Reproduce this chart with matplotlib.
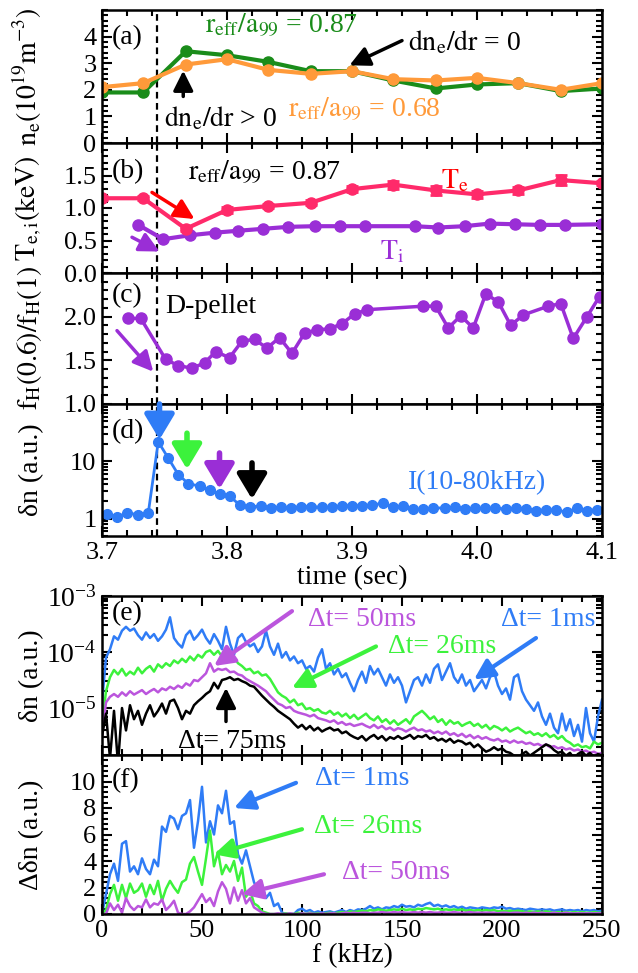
import numpy as np
import matplotlib
matplotlib.use('Agg')
import matplotlib.pyplot as plt
from matplotlib.ticker import MultipleLocator, LogLocator, NullFormatter

plt.rcParams['font.family'] = ['Liberation Serif', 'DejaVu Serif']
plt.rcParams['mathtext.fontset'] = 'stix'
plt.rcParams['font.size'] = 19

# ---------------- data ----------------
t_prof = [3.700, 3.733, 3.767, 3.800, 3.833, 3.867, 3.900, 3.933, 3.967, 4.000, 4.033, 4.067, 4.100]
ne_087 = [1.9, 1.9, 3.45, 3.3, 3.05, 2.7, 2.7, 2.35, 2.05, 2.2, 2.25, 1.95, 2.05]
ne_068 = [2.1, 2.25, 2.95, 3.15, 2.75, 2.6, 2.7, 2.4, 2.35, 2.45, 2.25, 2.0, 2.25]

Te = [1.15, 1.15, 0.68, 0.97, 1.03, 1.08, 1.29, 1.36, 1.27, 1.21, 1.27, 1.43, 1.38]
Te_err = [0.03, 0.03, 0.03, 0.04, 0.03, 0.04, 0.05, 0.06, 0.07, 0.05, 0.06, 0.08, 0.03]

t_Ti = [3.729, 3.749, 3.770, 3.790, 3.809, 3.829, 3.849, 3.870, 3.890, 3.910,
        3.950, 3.969, 3.990, 4.010, 4.030, 4.050, 4.070, 4.100]
Ti = [0.74, 0.52, 0.58, 0.62, 0.65, 0.68, 0.71, 0.72, 0.72, 0.72,
      0.72, 0.70, 0.72, 0.76, 0.75, 0.74, 0.74, 0.75]

t_fH = [3.721, 3.731, 3.751, 3.761, 3.772, 3.782, 3.791, 3.802, 3.812, 3.822,
        3.832, 3.842, 3.852, 3.862, 3.872, 3.882, 3.892, 3.902, 3.912, 3.957,
        3.967, 3.977, 3.987, 3.997, 4.007, 4.017, 4.027, 4.037, 4.057, 4.067,
        4.077, 4.088, 4.098]
fH_ratio = [1.98, 1.98, 1.51, 1.44, 1.41, 1.47, 1.60, 1.53, 1.72, 1.74,
            1.64, 1.76, 1.58, 1.81, 1.85, 1.86, 1.92, 2.03, 2.08, 2.12,
            2.12, 1.87, 2.01, 1.87, 2.26, 2.17, 1.90, 2.02, 2.12, 2.15,
            1.75, 2.00, 2.23]

t_dn = [3.704, 3.712, 3.720, 3.729, 3.737, 3.745, 3.753, 3.761, 3.769, 3.778,
        3.786, 3.794, 3.802, 3.810, 3.818, 3.827, 3.835, 3.843, 3.851, 3.859,
        3.867, 3.876, 3.884, 3.892, 3.900, 3.908, 3.916, 3.925, 3.933, 3.941,
        3.949, 3.957, 3.965, 3.974, 3.982, 3.990, 3.998, 4.006, 4.014, 4.023,
        4.031, 4.039, 4.047, 4.055, 4.063, 4.072, 4.080, 4.088, 4.096]
dn_I = [1.22, 1.07, 1.27, 1.17, 1.25, 22.0, 11.4, 5.9, 4.1, 3.7,
        3.18, 2.68, 2.51, 1.74, 1.58, 1.69, 1.52, 1.58, 1.54, 1.63,
        1.63, 1.58, 1.60, 1.69, 1.69, 1.69, 1.74, 1.86, 1.58, 1.65,
        1.45, 1.48, 1.54, 1.54, 1.58, 1.48, 1.52, 1.52, 1.54, 1.48,
        1.52, 1.48, 1.39, 1.43, 1.43, 1.30, 1.54, 1.39, 1.43]

freq = np.arange(0, 251, 2)  # kHz sampling grid

# (e) log10 of spectra
sp_1ms = [-4.9, -4.1, -3.95, -3.72, -3.78, -3.62, -3.55, -3.62, -3.58, -3.7,
          -3.78, -3.65, -3.75, -3.68, -3.8, -3.72, -3.6, -3.38, -3.75, -3.85,
          -3.92, -3.7, -3.62, -3.78, -3.7, -3.6, -3.75, -3.85, -3.68, -3.8,
          -3.95, -3.55, -3.85, -4.05, -3.75, -3.68, -3.82, -3.9, -3.85, -4.0,
          -3.9, -3.62, -3.9, -4.05, -3.85, -4.1, -4.0, -4.15, -4.08, -4.2,
          -4.15, -4.3, -4.25, -4.35, -4.1, -3.95, -4.3, -4.2, -4.4, -4.3,
          -4.45, -4.38, -4.55, -4.7, -4.5, -4.35, -4.55, -4.25, -4.4, -4.3,
          -4.45, -4.6, -4.4, -4.55, -4.45, -4.6, -4.9, -4.7, -4.5, -4.45,
          -4.6, -4.4, -4.55, -4.3, -4.22, -4.5, -4.35, -4.2, -4.45, -4.55,
          -4.4, -4.6, -4.5, -4.7, -4.6, -4.5, -4.65, -4.45, -4.35, -4.6,
          -4.75, -4.65, -4.85, -4.45, -4.4, -4.7, -4.85, -4.95, -5.05, -4.9,
          -5.15, -5.3, -5.1, -5.35, -5.45, -5.1, -5.4, -5.2, -5.5, -5.3,
          -5.6, -5.0, -5.45, -5.6, -5.15, -4.85]
sp_26ms = [-5.3, -4.7, -4.45, -4.32, -4.4, -4.3, -4.42, -4.35, -4.4, -4.28,
           -4.38, -4.3, -4.25, -4.35, -4.22, -4.28, -4.2, -4.25, -4.15, -4.2,
           -4.12, -4.18, -4.08, -4.15, -4.05, -4.1, -4.0, -3.97, -4.05, -3.98,
           -4.08, -4.05, -4.15, -4.1, -4.2, -4.25, -4.32, -4.3, -4.38, -4.35,
           -4.42, -4.4, -4.48, -4.6, -4.72, -4.78, -4.82, -4.9, -4.85, -4.95,
           -4.92, -5.02, -5.0, -5.05, -5.02, -5.08, -5.1, -5.05, -5.12, -5.08,
           -5.15, -5.1, -5.18, -5.12, -5.2, -5.15, -5.1, -5.18, -5.22, -5.15,
           -5.25, -5.2, -5.28, -5.22, -5.3, -5.25, -5.2, -5.28, -5.15, -5.1,
           -5.05, -5.12, -5.2, -5.15, -5.25, -5.2, -5.3, -5.22, -5.28, -5.25,
           -5.32, -5.28, -5.25, -5.32, -5.28, -5.35, -5.3, -5.38, -5.32, -5.35,
           -5.4, -5.35, -5.42, -5.38, -5.35, -5.4, -5.45, -5.42, -5.48, -5.45,
           -5.5, -5.45, -5.52, -5.48, -5.55, -5.5, -5.58, -5.62, -5.68, -5.65,
           -5.7, -5.68, -5.72, -5.6, -5.65, -5.62]
sp_50ms = [-5.5, -4.9, -4.8, -4.75, -4.8, -4.72, -4.78, -4.7, -4.76, -4.72,
           -4.68, -4.75, -4.7, -4.66, -4.72, -4.65, -4.68, -4.62, -4.66, -4.6,
           -4.64, -4.56, -4.6, -4.5, -4.52, -4.45, -4.38, -4.2, -4.35, -4.3,
           -4.32, -4.3, -4.36, -4.35, -4.4, -4.42, -4.48, -4.52, -4.56, -4.6,
           -4.65, -4.7, -4.78, -4.85, -4.92, -4.95, -5.0, -4.98, -5.05, -5.08,
           -5.1, -5.12, -5.15, -5.12, -5.18, -5.2, -5.22, -5.25, -5.22, -5.28,
           -5.25, -5.3, -5.28, -5.32, -5.3, -5.28, -5.32, -5.35, -5.3, -5.36,
           -5.32, -5.38, -5.35, -5.4, -5.36, -5.38, -5.42, -5.38, -5.35, -5.4,
           -5.38, -5.42, -5.4, -5.45, -5.42, -5.46, -5.42, -5.48, -5.45, -5.5,
           -5.46, -5.52, -5.48, -5.54, -5.5, -5.55, -5.52, -5.56, -5.58, -5.55,
           -5.6, -5.58, -5.62, -5.58, -5.62, -5.6, -5.64, -5.62, -5.66, -5.64,
           -5.68, -5.65, -5.7, -5.68, -5.72, -5.7, -5.74, -5.72, -5.76, -5.74,
           -5.78, -5.76, -5.8, -5.78, -5.82, -5.8]
sp_75ms = [-5.5, -5.1, -5.9, -5.05, -6.0, -5.0, -5.4, -4.95, -5.2, -5.05,
           -5.3, -5.1, -4.95, -5.15, -5.05, -4.92, -5.1, -4.88, -4.85, -5.0,
           -5.2, -5.05, -5.1, -4.95, -4.88, -4.82, -4.75, -4.7, -4.55, -4.65,
           -4.5, -4.48, -4.45, -4.5, -4.48, -4.52, -4.55, -4.6, -4.62, -4.7,
           -4.78, -4.85, -4.92, -4.98, -5.05, -5.1, -5.15, -5.2, -5.28, -5.35,
           -5.3, -5.38, -5.32, -5.4, -5.35, -5.42, -5.38, -5.35, -5.4, -5.38,
           -5.45, -5.42, -5.48, -5.52, -5.55, -5.5, -5.58, -5.52, -5.48, -5.55,
           -5.5, -5.58, -5.52, -5.55, -5.5, -5.55, -5.52, -5.48, -5.55, -5.5,
           -5.52, -5.48, -5.55, -5.52, -5.58, -5.55, -5.6, -5.55, -5.62, -5.58,
           -5.6, -5.65, -5.62, -5.7, -5.65, -5.72, -5.78, -5.75, -5.7, -5.75,
           -5.72, -5.78, -5.8, -5.85, -5.9, -5.82, -5.78, -5.85, -5.8, -5.75,
           -5.7, -5.65, -5.68, -5.75, -5.8, -5.78, -5.85, -5.8, -5.9, -5.82,
           -5.78, -5.85, -5.8, -5.88, -5.82, -5.85]

# (f) difference spectra
dd_1ms = [0.0, 1.5, 3.0, 3.8, 2.5, 5.3, 5.5, 3.2, 3.6, 3.0,
          4.2, 3.4, 3.0, 4.1, 3.6, 6.6, 6.2, 7.4, 7.2, 6.4,
          7.4, 7.6, 8.6, 5.0, 7.0, 9.6, 5.4, 7.0, 6.0, 8.2,
          7.6, 9.3, 6.8, 7.0, 4.5, 3.8, 4.8, 3.6, 2.4, 1.8,
          2.2, 1.2, 1.6, 0.6, 0.8, 0.1, 0.0, 0.0, 0.0, 0.3,
          0.4, 0.2, 0.3, 0.1, 0.2, 0.1, 0.15, 0.2, 0.1, 0.2,
          0.3, 0.15, 0.3, 0.2, 0.35, 0.3, 0.4, 0.6, 0.4, 0.5,
          0.35, 0.5, 0.45, 0.6, 0.5, 0.7, 0.55, 0.6, 0.5, 0.7,
          0.6, 0.75, 0.85, 0.6, 0.7, 0.55, 0.65, 0.5, 0.6, 0.45,
          0.55, 0.4, 0.5, 0.45, 0.4, 0.5, 0.45, 0.4, 0.5, 0.45,
          0.55, 0.4, 0.45, 0.35, 0.4, 0.35, 0.3, 0.4, 0.35, 0.3,
          0.35, 0.3, 0.35, 0.25, 0.3, 0.35, 0.25, 0.3, 0.25, 0.3,
          0.2, 0.3, 0.25, 0.3, 0.2, 0.25]
dd_26ms = [0.0, 0.3, 1.5, 2.2, 1.0, 2.2, 1.2, 2.3, 1.6, 1.8,
           2.3, 1.3, 2.2, 1.5, 2.5, 1.0, 1.9, 2.5, 2.0, 1.6,
           2.4, 2.6, 3.8, 4.3, 3.2, 2.2, 4.2, 6.3, 3.6, 4.7,
           3.0, 3.7, 3.2, 4.0, 2.5, 3.5, 1.3, 1.8, 0.8, 0.6,
           0.2, 0.1, 0.0, 0.0, 0.0, 0.0, 0.05, 0.0, 0.0, 0.1,
           0.05, 0.0, 0.1, 0.0, 0.05, 0.0, 0.05, 0.1, 0.05, 0.1,
           0.15, 0.1, 0.2, 0.15, 0.2, 0.25, 0.2, 0.3, 0.25, 0.35,
           0.3, 0.25, 0.3, 0.35, 0.3, 0.4, 0.3, 0.35, 0.3, 0.4,
           0.35, 0.45, 0.4, 0.35, 0.4, 0.3, 0.35, 0.3, 0.35, 0.3,
           0.35, 0.25, 0.3, 0.25, 0.3, 0.25, 0.3, 0.25, 0.3, 0.2,
           0.25, 0.2, 0.25, 0.2, 0.25, 0.2, 0.15, 0.2, 0.15, 0.2,
           0.15, 0.2, 0.15, 0.1, 0.15, 0.1, 0.15, 0.1, 0.15, 0.1,
           0.15, 0.1, 0.1, 0.15, 0.1, 0.1]
dd_50ms = [0.0, 0.0, 0.8, 0.3, 0.7, 0.1, 1.2, 0.6, 0.3, 0.6,
           0.5, 1.1, 0.5, 0.8, 0.7, 1.1, 0.3, 0.6, 1.0, 0.1,
           0.0, 0.0, 0.2, 0.5, 1.0, 1.5, 0.9, 1.2, 0.6, 1.7,
           2.4, 1.9, 0.8, 2.0, 1.0, 1.8, 0.8, 1.2, 0.5, 0.3,
           0.1, 0.0, 0.0, 0.0, 0.05, 0.0, 0.0, 0.05, 0.0, 0.0,
           0.05, 0.0, 0.05, 0.0, 0.0, 0.05, 0.0, 0.05, 0.05, 0.0,
           0.05, 0.1, 0.05, 0.1, 0.05, 0.1, 0.1, 0.05, 0.1, 0.1,
           0.15, 0.1, 0.1, 0.15, 0.1, 0.15, 0.1, 0.1, 0.15, 0.1,
           0.15, 0.1, 0.15, 0.1, 0.1, 0.15, 0.1, 0.1, 0.15, 0.1,
           0.1, 0.1, 0.15, 0.1, 0.1, 0.1, 0.1, 0.1, 0.1, 0.05,
           0.1, 0.1, 0.05, 0.1, 0.1, 0.05, 0.1, 0.05, 0.1, 0.05,
           0.1, 0.05, 0.05, 0.1, 0.05, 0.05, 0.1, 0.05, 0.05, 0.05,
           0.05, 0.05, 0.05, 0.05, 0.05, 0.05]

t_pellet = 3.744

# ---------------- colors ----------------
c_green = '#1a8c1a'
c_orange = '#ff9a3a'
c_te = '#ff2a6a'
c_red = '#ff0000'
c_pur = '#9a2ed6'
c_blue = '#2f7cf6'
c_lgreen = '#3cf23c'
c_lpur = '#bb55dd'

FS = 20   # annotation / label font size
TS = 19   # tick label size

fig = plt.figure(figsize=(6.38, 9.73), dpi=100)
L, W = 102 / 638, 500 / 638
def box(top, bot):
    return [L, 1 - bot / 973, W, (bot - top) / 973]

ax_a = fig.add_axes(box(10, 143))
ax_b = fig.add_axes(box(143, 273))
ax_c = fig.add_axes(box(273, 404))
ax_d = fig.add_axes(box(404, 536))
ax_e = fig.add_axes(box(596, 755))
ax_f = fig.add_axes(box(755, 914))

def style(ax):
    ax.tick_params(which='both', direction='in', top=True, right=True, width=1.5,
                   labelsize=TS, pad=4)
    ax.tick_params(which='major', length=7)
    ax.tick_params(which='minor', length=4)
    for s in ax.spines.values():
        s.set_linewidth(1.8)

def arrow(ax, tail, head, color, lw=2.5, hl=0.6, hw=0.3, ms=20):
    ax.annotate('', xy=head, xytext=tail, annotation_clip=False,
                arrowprops=dict(arrowstyle=f'-|>,head_length={hl},head_width={hw}',
                                color=color, lw=lw, mutation_scale=ms,
                                shrinkA=0, shrinkB=0))

for ax in (ax_a, ax_b, ax_c, ax_d):
    style(ax)
    ax.set_xlim(3.7, 4.1)
    ax.xaxis.set_major_locator(MultipleLocator(0.1))
    ax.xaxis.set_minor_locator(MultipleLocator(0.02))
    ax.axvline(t_pellet, color='black', ls='--', lw=1.6, dashes=(3, 2))
    if ax is not ax_d:
        ax.tick_params(labelbottom=False)

# (a)
ax_a.plot(t_prof, ne_087, '-o', color=c_green, lw=3, ms=8)
ax_a.plot(t_prof, ne_068, '-o', color=c_orange, lw=3, ms=8)
ax_a.set_ylim(0, 5)
ax_a.set_yticks([0, 1, 2, 3, 4])
ax_a.yaxis.set_minor_locator(MultipleLocator(0.2))
ax_a.set_ylabel(r'$\mathrm{n_e(10^{19}m^{-3})}$', fontsize=FS)
ax_a.text(0.02, 0.79, '(a)', transform=ax_a.transAxes, fontsize=FS, va='center')
ax_a.text(3.844, 4.42, r'$\mathrm{r_{eff}/a_{99}}$ = 0.87', color=c_green,
          fontsize=FS, ha='center', va='center')
ax_a.text(3.99, 3.8, r'$\mathrm{dn_e/dr}$ = 0', fontsize=FS, ha='center', va='center')
arrow(ax_a, (3.94, 3.85), (3.898, 2.92), 'black', lw=2.5)
ax_a.text(3.795, 0.95, r'$\mathrm{dn_e/dr}$ > 0', fontsize=FS, ha='center', va='center')
arrow(ax_a, (3.765, 1.75), (3.765, 2.72), 'black', lw=2.5)
ax_a.text(3.91, 1.25, r'$\mathrm{r_{eff}/a_{99}}$ = 0.68', color=c_orange,
          fontsize=FS, ha='center', va='center')

# (b)
ax_b.errorbar(t_prof, Te, yerr=Te_err, fmt='-o', color=c_te, lw=3, ms=8,
              elinewidth=2, capsize=4, capthick=2)
ax_b.plot(t_Ti, Ti, '-o', color=c_pur, lw=3, ms=8)
ax_b.set_ylim(0, 2.0)
ax_b.set_yticks([0.0, 0.5, 1.0, 1.5])
ax_b.yaxis.set_major_formatter(plt.FormatStrFormatter('%.1f'))
ax_b.yaxis.set_minor_locator(MultipleLocator(0.1))
ax_b.set_ylabel(r'$\mathrm{T_{e,i}(keV)}$', fontsize=FS)
ax_b.text(0.02, 0.78, '(b)', transform=ax_b.transAxes, fontsize=FS, va='center')
ax_b.text(3.83, 1.54, r'$\mathrm{r_{eff}/a_{99}}$ = 0.87', fontsize=FS,
          ha='center', va='center')
ax_b.text(3.982, 1.42, r'$\mathrm{T_e}$', color=c_red, fontsize=FS, ha='center', va='center')
ax_b.text(3.932, 0.33, r'$\mathrm{T_i}$', color=c_pur, fontsize=FS, ha='center', va='center')
arrow(ax_b, (3.740, 1.24), (3.774, 0.83), c_red, lw=2.5)
arrow(ax_b, (3.724, 0.55), (3.746, 0.33), c_pur, lw=2.5)

# (c)
ax_c.plot(t_fH, fH_ratio, '-o', color=c_pur, lw=2.5, ms=8)
ax_c.set_ylim(1.0, 2.5)
ax_c.set_yticks([1.0, 1.5, 2.0])
ax_c.yaxis.set_major_formatter(plt.FormatStrFormatter('%.1f'))
ax_c.yaxis.set_minor_locator(MultipleLocator(0.1))
ax_c.set_ylabel(r'$\mathrm{f_H(0.6)/f_H(1)}$', fontsize=FS)
ax_c.text(0.02, 0.83, '(c)', transform=ax_c.transAxes, fontsize=FS, va='center')
ax_c.text(3.787, 2.12, 'D-pellet', fontsize=FS, ha='center', va='center')
arrow(ax_c, (3.712, 1.84), (3.741, 1.37), c_pur, lw=2.5)

# (d)
ax_d.plot(t_dn, dn_I, '-o', color=c_blue, lw=2, ms=7)
ax_d.set_yscale('log')
ax_d.set_ylim(0.5, 100)
ax_d.set_yticks([1, 10])
ax_d.set_yticklabels(['1', '10'])
ax_d.yaxis.set_minor_formatter(NullFormatter())
ax_d.set_ylabel('δn (a.u.)', fontsize=FS)
ax_d.set_xlabel('time (sec)', fontsize=FS, labelpad=1)
ax_d.set_xticks([3.7, 3.8, 3.9, 4.0, 4.1])
ax_d.set_xticklabels(['3.7', '3.8', '3.9', '4.0', '4.1'])
ax_d.text(0.02, 0.79, '(d)', transform=ax_d.transAxes, fontsize=FS, va='center')
ax_d.text(4.0, 4.3, 'I(10-80kHz)', color=c_blue, fontsize=FS, ha='center', va='center')
for tx, y0, y1, col in [(3.746, 100, 24, c_blue), (3.768, 31, 7.3, c_lgreen),
                        (3.794, 14, 3.3, c_pur), (3.820, 9.4, 2.2, 'black')]:
    arrow(ax_d, (tx, y0), (tx, y1), col, lw=4, hl=0.75, hw=0.45, ms=20)

# (e)
for ax in (ax_e, ax_f):
    style(ax)
    ax.set_xlim(0, 250)
    ax.xaxis.set_major_locator(MultipleLocator(50))
    ax.xaxis.set_minor_locator(MultipleLocator(10))

ax_e.plot(freq, 10 ** np.array(sp_1ms), color=c_blue, lw=1.8)
ax_e.plot(freq, 10 ** np.array(sp_26ms), color=c_lgreen, lw=1.8)
ax_e.plot(freq, 10 ** np.array(sp_50ms), color=c_lpur, lw=1.8)
ax_e.plot(freq, 10 ** np.array(sp_75ms), color='black', lw=1.8)
ax_e.set_yscale('log')
ax_e.set_ylim(1.45e-6, 1e-3)
ax_e.yaxis.set_major_locator(LogLocator(base=10, numticks=10))
ax_e.yaxis.set_minor_locator(LogLocator(base=10, subs=np.arange(2, 10), numticks=20))
ax_e.yaxis.set_minor_formatter(NullFormatter())
ax_e.tick_params(labelbottom=False, labelsize=TS + 1)
ax_e.set_ylabel('δn (a.u.)', fontsize=FS)
ax_e.text(0.02, 0.89, '(e)', transform=ax_e.transAxes, fontsize=FS, va='center')
ax_e.text(130, 3.8e-4, 'Δt= 50ms', color=c_lpur, fontsize=FS, ha='center', va='center')
ax_e.text(223, 3.8e-4, 'Δt= 1ms', color=c_blue, fontsize=FS, ha='center', va='center')
ax_e.text(170, 1.26e-4, 'Δt= 26ms', color=c_lgreen, fontsize=FS, ha='center', va='center')
ax_e.text(65, 2.5e-6, 'Δt= 75ms', color='black', fontsize=FS, ha='center', va='center')
arrow(ax_e, (95, 10 ** -3.27), (56, 10 ** -4.25), c_lpur, lw=3)
arrow(ax_e, (137, 10 ** -3.9), (95, 10 ** -4.64), c_lgreen, lw=3)
arrow(ax_e, (217, 10 ** -3.75), (186, 10 ** -4.49), c_blue, lw=3)
arrow(ax_e, (62, 10 ** -5.24), (62, 10 ** -4.64), 'black', lw=2.5)

# (f)
ax_f.plot(freq, dd_1ms, color=c_blue, lw=1.8)
ax_f.plot(freq, dd_26ms, color=c_lgreen, lw=1.8)
ax_f.plot(freq, dd_50ms, color=c_lpur, lw=1.8)
ax_f.set_ylim(0, 12)
ax_f.set_yticks([0, 2, 4, 6, 8, 10])
ax_f.yaxis.set_minor_locator(MultipleLocator(0.4))
ax_f.set_ylabel('Δδn (a.u.)', fontsize=FS)
ax_f.set_xlabel('f (kHz)', fontsize=FS, labelpad=1)
ax_f.text(0.02, 0.84, '(f)', transform=ax_f.transAxes, fontsize=FS, va='center')
ax_f.text(130, 10.2, 'Δt= 1ms', color=c_blue, fontsize=FS, ha='center', va='center')
ax_f.text(133, 6.6, 'Δt= 26ms', color=c_lgreen, fontsize=FS, ha='center', va='center')
ax_f.text(147, 3.1, 'Δt= 50ms', color=c_lpur, fontsize=FS, ha='center', va='center')
arrow(ax_f, (97, 9.9), (66, 8.0), c_blue, lw=3)
arrow(ax_f, (100, 6.4), (56, 4.5), c_lgreen, lw=3)
arrow(ax_f, (111, 3.0), (70, 1.5), c_lpur, lw=3)

for ax in (ax_a, ax_b, ax_c, ax_d, ax_e, ax_f):
    ax.yaxis.set_label_coords(-0.115, 0.5)

fig.savefig('out.png', dpi=100)
